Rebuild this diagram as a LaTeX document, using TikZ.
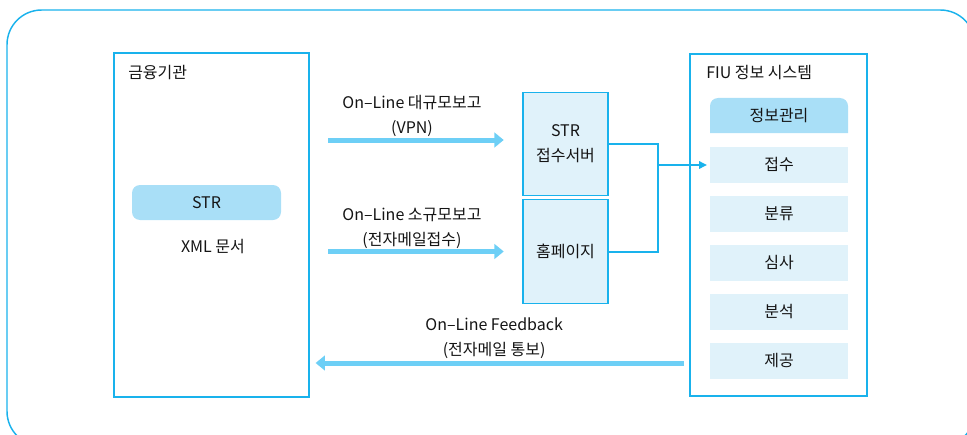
\documentclass[tikz,border=0pt]{standalone}
\usepackage{fontspec}
\setmainfont{Noto Sans CJK KR}
\usepackage{tikz}
\usetikzlibrary{arrows.meta}

\definecolor{linecyan}{RGB}{25,178,236}
\definecolor{arrowblue}{RGB}{109,207,246}
\definecolor{pillblue}{RGB}{169,223,247}
\definecolor{paleblue}{RGB}{224,242,250}

\tikzset{
  txt/.style={font=\fontsize{12pt}{18.75pt}\selectfont, text=black!92},
  panel/.style={draw=linecyan, line width=0.9pt, inner sep=0pt},
  pill/.style={txt, fill=pillblue, rounded corners=6pt, minimum width=111.75pt, minimum height=26.25pt},
  srvbox/.style={txt, draw=linecyan, fill=paleblue, line width=0.9pt, align=center,
    minimum width=63.75pt, minimum height=77.5pt},
  stepitem/.style={txt, fill=paleblue, minimum width=103.5pt, minimum height=27pt},
  bigarrow/.style={arrowblue, line width=3.75pt, -{Triangle[length=7pt,width=11pt]}},
  link/.style={linecyan, line width=1.5pt},
  note/.style={txt, align=center, inner sep=0pt}
}

\begin{document}
\begin{tikzpicture}[x=0.75pt, y=-0.75pt]
\useasboundingbox (0,0) rectangle (967,435);
\draw[linecyan, line width=1.1pt, rounded corners=26pt] (7,10) rectangle (975,446);

% financial institution side
\node[panel, minimum width=146.25pt, minimum height=258pt] (bank) at (211.5,225) {};
\node[txt, anchor=west, inner sep=0pt] (banktitle) at (128,73) {금융기관};
\node[pill] (str) at (206.5,202.5) {STR};
\node[txt] (xml) at (213,247) {XML 문서};

% receiving servers
\node[srvbox] (server) at (565.5,144) {STR\\접수서버};
\node[srvbox] (home) at (565.5,251.5) {홈페이지};

% FIU system
\node[panel, minimum width=132.75pt, minimum height=256.5pt] (fiu) at (778.5,225) {};
\node[txt, anchor=west, inner sep=0pt] (fiutitle) at (706,73) {FIU 정보 시스템};
\fill[pillblue] (710,133) [rounded corners=6pt] -- (710,98) -- (848,98) [sharp corners] -- (848,133) -- cycle;
\node[txt] (mgmt) at (779,115.5) {정보관리};
\foreach \t [count=\i] in {접수,분류,심사,분석,제공}
  \node[stepitem] (s\i) at (779,116+49*\i) {\t};

% reports
\coordinate (in1) at ([yshift=3pt]server.west);
\draw[bigarrow, shorten <=14pt, shorten >=14pt] (bank.east |- in1) -- node[note, above=0.5pt, xshift=-3pt] {On–Line 대규모보고\\(VPN)} (in1);
\draw[bigarrow, shorten <=14pt, shorten >=14pt] (bank.east |- home.west) -- node[note, above=0.5pt, xshift=-3pt] {On–Line 소규모보고\\(전자메일접수)} (home.west);

\coordinate (join) at (658,165);
\draw[link] (server.east) -| (join) |- (home.east);
\draw[link, -{Triangle[length=6pt,width=5.5pt]}, shorten >=2pt] (join) -- (join -| s1.west);

% feedback
\coordinate (out) at ([yshift=-1.5pt]s5.west);
\draw[bigarrow, shorten <=4pt, shorten >=4.5pt] (fiu.west |- out) -- node[note, above=1.5pt, xshift=-4pt] {On–Line Feedback\\(전자메일 통보)} (bank.east |- out);
\end{tikzpicture}
\end{document}
